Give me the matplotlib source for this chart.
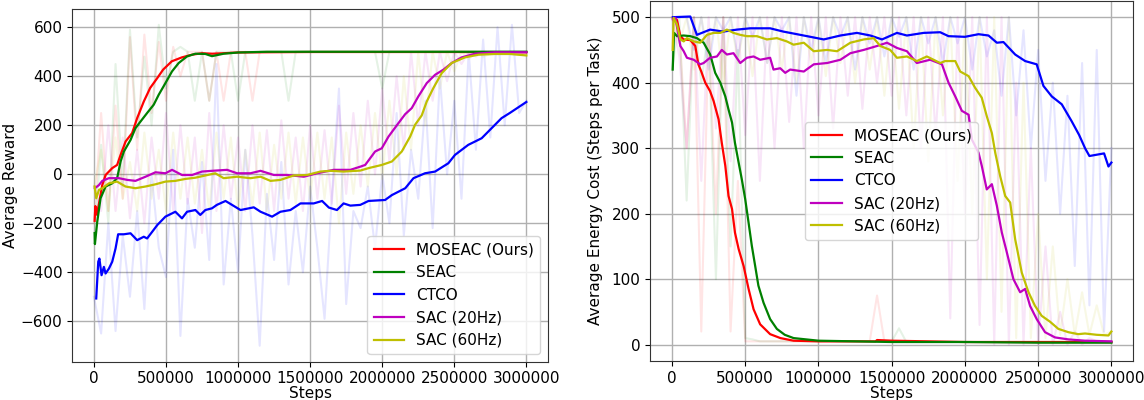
import numpy as np
import matplotlib
matplotlib.use("Agg")
import matplotlib.pyplot as plt

plt.rcParams['font.size'] = 11

labels = ["MOSEAC (Ours)", "SEAC", "CTCO", "SAC (20Hz)", "SAC (60Hz)"]
colors = ["r", "g", "b", "m", "y"]
xticks = [0, 500000, 1000000, 1500000, 2000000, 2500000, 3000000]

# raw (unsmoothed) logs, one value every 50000 steps
raw_steps = np.arange(0, 3000001, 50000)

reward_raw_moseac = [-200, 250, -150, 280, -100, 560, 100, 570, 250, 540,
                     300, 520, 400, 500, 500, 500, 300, 500, 300, 500,
                     500, 500, 300, 500, 500, 500, 500, 500, 500, 500,
                     500, 500, 500, 500, 500, 500, 500, 500, 500, 500,
                     500, 500, 500, 500, 500, 500, 500, 500, 500, 500,
                     500, 500, 500, 500, 500, 500, 500, 500, 500, 500, 500]
reward_raw_seac = [-280, 120, -200, 450, -50, 590, 150, 480, 200, 610,
                   350, 500, 520, 500, 300, 500, 300, 500, 500, 500,
                   300, 500, 500, 500, 500, 500, 500, 300, 500, 500,
                   500, 500, 500, 500, 500, 500, 500, 500, 500, 500,
                   350, 500, 500, 500, 500, 500, 500, 500, 500, 500,
                   500, 500, 500, 500, 500, 500, 500, 500, 500, 500, 500]
reward_raw_ctco = [-500, -650, -200, -640, -250, -500, -150, -550, 0, -300,
                   -420, 100, -660, -100, -300, 50, -350, 450, -450, -100,
                   -400, 100, -250, -700, -80, -350, 50, -450, -150, -400,
                   -50, -300, -590, -100, 350, -530, -150, -220, -50, -300,
                   0, -200, 250, -250, 100, -100, 300, -220, 400, 0,
                   300, -100, 500, 100, 550, 150, 600, 200, 610, 250, 300]
reward_raw_sac20 = [-50, -150, 200, -150, 150, -180, 100, -200, 150, -100,
                    250, -150, 200, -120, 150, -240, 250, -150, 200, -100,
                    150, -150, 200, -120, 180, -150, 220, -100, 150, -150,
                    200, -100, 180, -120, 280, -80, 250, -50, 300, 0,
                    350, 50, 400, 100, 500, 200, 500, 300, 500, 380,
                    500, 450, 500, 480, 500, 500, 500, 500, 500, 500, 500]
reward_raw_sac60 = [-50, 100, -150, 150, -100, 50, -150, 170, -100, 100,
                    -150, 170, -100, 150, -120, 100, -150, 170, -100, 150,
                    -150, 100, -130, 170, -150, 120, -100, 170, -120, 150,
                    -100, 170, -100, 150, -200, 170, -80, 200, -50, 250,
                    -20, 300, 0, 400, 100, 500, 200, 500, 350, 500,
                    420, 500, 470, 500, 480, 490, 490, 490, 490, 490, 490]

cost_raw_moseac = [500, 480, 300, 500, 20, 480, 200, 500, 20, 250,
                   5, 5, 5, 5, 5, 5, 5, 5, 5, 5,
                   5, 5, 5, 5, 5, 5, 5, 5, 75, 5,
                   5, 5, 4, 4, 4, 4, 4, 4, 4, 4,
                   4, 4, 4, 4, 4, 4, 4, 4, 4, 4,
                   4, 4, 4, 4, 4, 4, 4, 4, 4, 4, 4]
cost_raw_seac = [420, 500, 220, 500, 400, 480, 100, 500, 150, 450,
                 10, 8, 5, 5, 5, 5, 5, 5, 5, 5,
                 5, 5, 5, 5, 5, 5, 5, 5, 5, 5,
                 5, 25, 4, 4, 4, 4, 4, 4, 4, 4,
                 4, 4, 4, 4, 4, 4, 4, 4, 4, 4,
                 4, 4, 4, 4, 4, 4, 4, 4, 4, 4, 4]
cost_raw_ctco = [500, 500, 500, 450, 500, 420, 500, 480, 500, 440,
                 500, 470, 500, 430, 500, 480, 500, 380, 500, 450,
                 500, 430, 500, 470, 500, 420, 500, 460, 500, 440,
                 500, 470, 500, 420, 500, 460, 500, 430, 500, 460,
                 500, 420, 500, 440, 480, 380, 500, 350, 480, 300,
                 450, 250, 400, 200, 380, 120, 430, 60, 450, 20, 300]
cost_raw_sac20 = [500, 440, 300, 500, 250, 500, 330, 500, 280, 500,
                  320, 500, 250, 500, 300, 500, 340, 500, 300, 500,
                  350, 500, 330, 500, 380, 500, 360, 500, 400, 500,
                  380, 500, 350, 500, 300, 500, 320, 500, 40, 500,
                  200, 500, 30, 500, 0, 500, 0, 400, 0, 300,
                  0, 150, 0, 50, 0, 20, 0, 10, 5, 5, 5]
cost_raw_sac60 = [500, 460, 500, 420, 500, 440, 500, 400, 500, 430,
                  500, 410, 500, 430, 500, 420, 500, 400, 500, 430,
                  500, 410, 500, 430, 500, 400, 500, 420, 500, 380,
                  500, 360, 500, 300, 500, 280, 500, 350, 500, 250,
                  500, 200, 500, 100, 500, 50, 500, 10, 400, 10,
                  200, 10, 150, 15, 100, 15, 80, 15, 60, 15, 20]

# smoothed curves
reward_moseac_x = [5e3, 10e3, 20e3, 35e3, 58e3, 81e3, 104e3, 127e3, 161e3, 185e3,
                   220e3, 265e3, 300e3, 346e3, 390e3, 440e3, 480e3, 540e3, 610e3, 680e3,
                   750e3, 820e3, 900e3, 1000e3, 1200e3, 1500e3, 2000e3, 2500e3, 3000e3]
reward_moseac_y = [-190, -130, -165, -120, -44, -3, 11, 25, 38, 79,
                   134, 168, 229, 297, 352, 393, 427, 461, 477, 488,
                   494, 492, 494, 497, 498, 499, 499, 499, 498]
reward_seac_x = [5e3, 7e3, 23e3, 46e3, 81e3, 127e3, 161e3, 185e3, 208e3, 254e3,
                 288e3, 323e3, 369e3, 415e3, 450e3, 496e3, 542e3, 588e3, 646e3, 704e3,
                 773e3, 819e3, 900e3, 1000e3, 1200e3, 1500e3, 2000e3, 2500e3, 3000e3]
reward_seac_y = [-240, -285, -194, -98, -50, -37, -16, 52, 93, 140,
                 188, 215, 250, 284, 325, 372, 420, 454, 481, 492,
                 491, 482, 492, 497, 500, 500, 500, 500, 500]
reward_ctco_x = [16e3, 30e3, 38e3, 53e3, 69e3, 81e3, 104e3, 127e3, 150e3, 168e3,
                 208e3, 254e3, 300e3, 346e3, 369e3, 404e3, 440e3, 496e3, 565e3, 611e3,
                 646e3, 704e3, 738e3, 773e3, 819e3, 853e3, 913e3, 1017e3, 1109e3, 1156e3,
                 1236e3, 1294e3, 1363e3, 1433e3, 1525e3, 1583e3, 1630e3, 1686e3, 1732e3, 1779e3,
                 1848e3, 1905e3, 2020e3, 2067e3, 2160e3, 2217e3, 2297e3, 2367e3, 2459e3, 2505e3,
                 2597e3, 2690e3, 2759e3, 2828e3, 2885e3, 3000e3]
reward_ctco_y = [-507, -357, -344, -412, -378, -405, -385, -357, -303, -245,
                 -245, -241, -269, -255, -262, -235, -207, -173, -153, -180,
                 -153, -146, -166, -146, -139, -125, -109, -146, -135, -153,
                 -173, -153, -146, -119, -119, -109, -136, -146, -119, -128,
                 -125, -109, -105, -85, -57, -16, 4, 11, 45, 79,
                 120, 147, 188, 229, 250, 295]
reward_sac20_x = [7e3, 35e3, 58e3, 104e3, 173e3, 231e3, 288e3, 358e3, 427e3, 496e3,
                  542e3, 611e3, 681e3, 750e3, 819e3, 924e3, 993e3, 1086e3, 1156e3, 1248e3,
                  1340e3, 1456e3, 1548e3, 1663e3, 1779e3, 1848e3, 1882e3, 1951e3, 1997e3, 2044e3,
                  2113e3, 2159e3, 2205e3, 2251e3, 2309e3, 2367e3, 2425e3, 2482e3, 2551e3, 2644e3,
                  2782e3, 3000e3]
reward_sac20_y = [-57, -44, -27, -16, -16, -23, -27, -10, 8, 4,
                  18, -3, -3, 11, 14, 18, 4, 4, 14, -3,
                  -3, -10, 4, 18, 18, 31, 38, 93, 106, 154,
                  209, 245, 270, 318, 372, 406, 427, 454, 477, 492,
                  498, 498]
reward_sac60_x = [5e3, 16e3, 35e3, 58e3, 104e3, 161e3, 219e3, 288e3, 358e3, 427e3,
                  496e3, 565e3, 635e3, 704e3, 773e3, 842e3, 900e3, 993e3, 1086e3, 1156e3,
                  1225e3, 1294e3, 1386e3, 1479e3, 1571e3, 1640e3, 1732e3, 1848e3, 1905e3, 1997e3,
                  2067e3, 2136e3, 2194e3, 2228e3, 2274e3, 2309e3, 2355e3, 2413e3, 2482e3, 2574e3,
                  2667e3, 2782e3, 2885e3, 3000e3]
reward_sac60_y = [-50, -98, -64, -57, -37, -30, -50, -57, -50, -41,
                  -30, -27, -19, -14, -5, 4, -16, -10, -16, -10,
                  -27, -23, -5, -3, 11, 14, 11, 15, 25, 38,
                  52, 93, 154, 202, 240, 297, 352, 413, 454, 477,
                  488, 491, 491, 485]

cost_moseac_x = [7e3, 34e3, 57e3, 80e3, 125e3, 159e3, 180e3, 200e3, 227e3, 260e3,
                 284e3, 318e3, 340e3, 364e3, 386e3, 410e3, 430e3, 455e3, 489e3, 523e3,
                 557e3, 602e3, 670e3, 740e3, 830e3, 1000e3, 1300e3, 1390e3, 1400e3, 1500e3,
                 2000e3, 2500e3, 3000e3]
cost_moseac_y = [499, 496, 471, 466, 465, 456, 428, 417, 400, 387,
                 372, 344, 308, 273, 227, 207, 171, 146, 120, 85,
                 54, 31, 16, 10, 6, 5, 5, 5, 7, 6,
                 4, 4, 4]
cost_seac_x = [5e3, 14e3, 34e3, 80e3, 125e3, 170e3, 216e3, 261e3, 295e3, 330e3,
               364e3, 386e3, 410e3, 430e3, 455e3, 477e3, 500e3, 523e3, 545e3, 568e3,
               590e3, 625e3, 670e3, 716e3, 770e3, 830e3, 1000e3, 1500e3, 2000e3, 2500e3,
               3000e3]
cost_seac_y = [420, 476, 471, 472, 471, 468, 461, 443, 415, 400,
               379, 359, 339, 308, 278, 252, 222, 186, 151, 120,
               90, 64, 39, 24, 15, 10, 6, 4, 4, 3,
               3]
cost_ctco_x = [7e3, 125e3, 170e3, 260e3, 350e3, 443e3, 534e3, 670e3, 760e3, 830e3,
               922e3, 1036e3, 1150e3, 1263e3, 1354e3, 1434e3, 1536e3, 1604e3, 1718e3, 1831e3,
               1888e3, 2000e3, 2093e3, 2161e3, 2218e3, 2263e3, 2343e3, 2411e3, 2490e3, 2536e3,
               2593e3, 2661e3, 2729e3, 2780e3, 2820e3, 2850e3, 2900e3, 2950e3, 2980e3, 3000e3]
cost_ctco_y = [500, 501, 473, 481, 478, 481, 483, 483, 478, 475,
               471, 466, 472, 476, 472, 466, 476, 472, 476, 477,
               471, 470, 474, 472, 461, 462, 443, 433, 428, 395,
               379, 367, 341, 320, 300, 288, 290, 292, 272, 278]
cost_sac20_x = [7e3, 23e3, 57e3, 80e3, 102e3, 148e3, 193e3, 216e3, 260e3, 307e3,
                340e3, 375e3, 420e3, 466e3, 511e3, 557e3, 602e3, 670e3, 693e3, 739e3,
                773e3, 807e3, 900e3, 968e3, 1059e3, 1150e3, 1218e3, 1309e3, 1400e3, 1468e3,
                1536e3, 1604e3, 1672e3, 1763e3, 1843e3, 1888e3, 1934e3, 1979e3, 2025e3, 2048e3,
                2093e3, 2115e3, 2149e3, 2184e3, 2218e3, 2252e3, 2286e3, 2331e3, 2377e3, 2411e3,
                2445e3, 2490e3, 2547e3, 2615e3, 2706e3, 2820e3, 3000e3]
cost_sac20_y = [496, 499, 456, 448, 438, 435, 428, 430, 438, 440,
                450, 443, 445, 430, 438, 440, 435, 438, 420, 422,
                415, 420, 417, 428, 430, 435, 445, 450, 456, 461,
                453, 448, 430, 435, 428, 400, 379, 357, 351, 313,
                293, 273, 237, 245, 212, 171, 141, 100, 80, 85,
                59, 39, 19, 11, 8, 6, 5]
cost_sac60_x = [5e3, 11e3, 34e3, 57e3, 80e3, 102e3, 148e3, 193e3, 239e3, 284e3,
                330e3, 375e3, 420e3, 466e3, 511e3, 580e3, 648e3, 716e3, 784e3, 830e3,
                900e3, 968e3, 1059e3, 1127e3, 1218e3, 1309e3, 1377e3, 1422e3, 1490e3, 1536e3,
                1604e3, 1672e3, 1740e3, 1831e3, 1865e3, 1934e3, 1968e3, 2025e3, 2070e3, 2115e3,
                2149e3, 2184e3, 2207e3, 2241e3, 2275e3, 2309e3, 2343e3, 2388e3, 2434e3, 2479e3,
                2524e3, 2581e3, 2638e3, 2706e3, 2774e3, 2820e3, 2900e3, 2980e3, 3000e3]
cost_sac60_y = [450, 499, 489, 466, 463, 468, 463, 461, 473, 476,
                476, 481, 476, 473, 471, 471, 466, 468, 463, 458,
                461, 448, 450, 448, 461, 466, 468, 456, 450, 438,
                440, 433, 440, 430, 433, 433, 417, 410, 392, 377,
                349, 323, 293, 257, 227, 217, 161, 110, 80, 59,
                44, 35, 24, 19, 16, 17, 15, 14, 20]

reward_raw = [reward_raw_moseac, reward_raw_seac, reward_raw_ctco, reward_raw_sac20, reward_raw_sac60]
reward_smooth = [(reward_moseac_x, reward_moseac_y), (reward_seac_x, reward_seac_y),
                 (reward_ctco_x, reward_ctco_y), (reward_sac20_x, reward_sac20_y),
                 (reward_sac60_x, reward_sac60_y)]
cost_raw = [cost_raw_moseac, cost_raw_seac, cost_raw_ctco, cost_raw_sac20, cost_raw_sac60]
cost_smooth = [(cost_moseac_x, cost_moseac_y), (cost_seac_x, cost_seac_y),
               (cost_ctco_x, cost_ctco_y), (cost_sac20_x, cost_sac20_y),
               (cost_sac60_x, cost_sac60_y)]

fig = plt.figure(figsize=(11.44, 4.0), dpi=100)
ax1 = fig.add_axes([0.0632, 0.0958, 0.4158, 0.882])
ax2 = fig.add_axes([0.5682, 0.0975, 0.4225, 0.9005])


def draw(ax, raws, smooths, ylabel, ylim, legend_loc, ypad):
    for raw, c in zip(raws, colors):
        ax.plot(raw_steps, raw, color=c, alpha=0.1, lw=1.5)
    for (x, y), c, lab in zip(smooths, colors, labels):
        ax.plot(x, y, color=c, lw=1.6, label=lab)
    ax.set_xlim(-150000, 3150000)
    ax.set_ylim(*ylim)
    ax.set_xticks(xticks)
    ax.ticklabel_format(axis='x', style='plain')
    ax.grid(True, color='#b0b0b0', lw=1.0)
    for s in ax.spines.values():
        s.set_color('#333333')
    ax.set_xlabel("Steps", labelpad=0)
    ax.set_ylabel(ylabel, labelpad=ypad)
    ax.legend(loc=legend_loc)


draw(ax1, reward_raw, reward_smooth, "Average Reward", (-765, 675), 'lower right', 2)
draw(ax2, cost_raw, cost_smooth, "Average Energy Cost (Steps per Task)", (-25, 525), 'center', 6)

fig.savefig("out.png", dpi=100)
